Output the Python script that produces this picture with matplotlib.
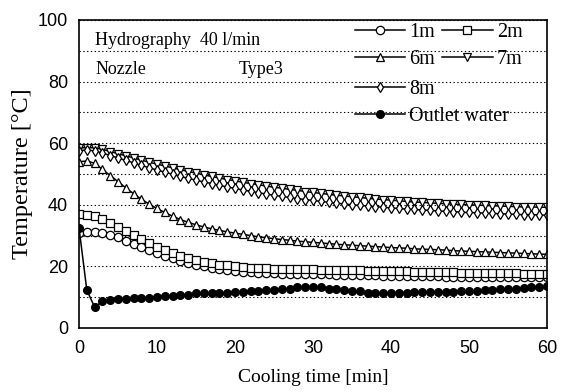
import matplotlib.pyplot as plt
from matplotlib.ticker import MultipleLocator

# cooling time [min], one reading per minute
time_min = list(range(61))

t_1m = [30.8, 31.2, 31.2, 30.8, 30.2, 29.4, 28.4, 27.4, 26.4, 25.3,
        24.3, 23.4, 22.6, 21.8, 21.1, 20.5, 20.0, 19.5, 19.1, 18.8,
        18.5, 18.3, 18.1, 17.9, 17.8, 17.7, 17.6, 17.6, 17.5, 17.5,
        17.5, 17.4, 17.4, 17.3, 17.3, 17.2, 17.2, 17.1, 17.1, 17.0,
        17.0, 16.9, 16.9, 16.9, 16.8, 16.8, 16.8, 16.7, 16.7, 16.7,
        16.6, 16.6, 16.6, 16.6, 16.5, 16.5, 16.5, 16.5, 16.4, 16.4, 16.4]

t_2m = [37.0, 36.8, 36.3, 35.3, 34.2, 32.9, 31.5, 30.1, 28.8, 27.5,
        26.3, 25.2, 24.3, 23.4, 22.7, 22.0, 21.5, 21.0, 20.6, 20.3,
        20.0, 19.8, 19.6, 19.5, 19.4, 19.3, 19.2, 19.2, 19.1, 19.1,
        19.0, 18.9, 18.9, 18.8, 18.8, 18.7, 18.7, 18.6, 18.6, 18.5,
        18.5, 18.4, 18.4, 18.3, 18.3, 18.2, 18.2, 18.1, 18.1, 18.0,
        18.0, 17.9, 17.9, 17.8, 17.8, 17.7, 17.7, 17.6, 17.6, 17.5, 17.5]

t_6m = [54.0, 54.2, 53.5, 51.5, 49.5, 47.5, 45.5, 43.6, 41.8, 40.2,
        38.8, 37.5, 36.3, 35.2, 34.3, 33.5, 32.8, 32.2, 31.7, 31.2,
        30.8, 30.4, 30.0, 29.6, 29.3, 29.0, 28.7, 28.5, 28.2, 28.0,
        27.8, 27.6, 27.4, 27.2, 27.0, 26.9, 26.7, 26.6, 26.4, 26.3,
        26.1, 26.0, 25.9, 25.7, 25.6, 25.5, 25.4, 25.3, 25.1, 25.0,
        24.9, 24.8, 24.7, 24.6, 24.5, 24.4, 24.3, 24.2, 24.1, 24.0, 23.9]

t_7m = [58.4, 58.6, 58.5, 58.0, 57.3, 56.6, 55.9, 55.2, 54.5, 53.8,
        53.2, 52.6, 52.0, 51.4, 50.8, 50.3, 49.7, 49.2, 48.7, 48.2,
        47.8, 47.3, 46.9, 46.5, 46.1, 45.7, 45.4, 45.0, 44.7, 44.3,
        44.0, 43.7, 43.4, 43.1, 42.9, 42.6, 42.4, 42.1, 41.9, 41.7,
        41.5, 41.3, 41.1, 40.9, 40.8, 40.6, 40.5, 40.3, 40.2, 40.1,
        40.0, 39.9, 39.8, 39.7, 39.6, 39.5, 39.4, 39.3, 39.3, 39.2, 39.2]

t_8m = [57.6, 57.8, 57.5, 56.8, 56.0, 55.2, 54.4, 53.6, 52.8, 52.0,
        51.3, 50.6, 49.9, 49.2, 48.6, 48.0, 47.4, 46.9, 46.3, 45.8,
        45.3, 44.8, 44.4, 43.9, 43.5, 43.1, 42.7, 42.4, 42.0, 41.7,
        41.4, 41.1, 40.8, 40.5, 40.3, 40.0, 39.8, 39.6, 39.4, 39.2,
        39.0, 38.8, 38.6, 38.5, 38.3, 38.2, 38.0, 37.9, 37.8, 37.6,
        37.5, 37.4, 37.3, 37.2, 37.1, 37.0, 36.9, 36.8, 36.8, 36.7, 36.6]

t_outlet = [32.5, 12.3, 6.8, 8.6, 9.2, 9.4, 9.5, 9.6, 9.6, 9.7,
            9.9, 10.4, 10.5, 10.6, 10.7, 11.2, 11.3, 11.3, 11.4, 11.5,
            11.7, 11.8, 12.0, 12.1, 12.3, 12.4, 12.5, 12.8, 13.3, 13.4,
            13.4, 13.2, 12.7, 12.5, 12.2, 12.0, 11.9, 11.2, 11.3, 11.4,
            11.4, 11.5, 11.5, 11.6, 11.6, 11.6, 11.7, 11.7, 11.8, 11.9,
            12.0, 12.0, 12.4, 12.4, 12.5, 12.6, 12.7, 12.9, 13.2, 13.4, 13.6]

serif = ['Liberation Serif', 'DejaVu Serif']

fig = plt.figure(figsize=(5.62, 3.92), dpi=100, facecolor='white')
ax = fig.add_axes([0.1406, 0.1633, 0.8327, 0.7857])

open_kw = dict(color='black', lw=1.1, mfc='white', mec='black', mew=0.9)
l1, = ax.plot(time_min, t_1m, marker='o', ms=6, label='1m', **open_kw)
l2, = ax.plot(time_min, t_2m, marker='s', ms=6, label='2m', **open_kw)
l6, = ax.plot(time_min, t_6m, marker='^', ms=6, label='6m', **open_kw)
l7, = ax.plot(time_min, t_7m, marker='v', ms=6, label='7m', **open_kw)
l8, = ax.plot(time_min, t_8m, marker='d', ms=5, label='8m', **open_kw)
lo, = ax.plot(time_min, t_outlet, marker='o', ms=5.5, color='black', lw=1.1,
              mfc='black', mec='black', label='Outlet water')

ax.set_xlim(0, 60)
ax.set_ylim(0, 100)
ax.xaxis.set_major_locator(MultipleLocator(10))
ax.yaxis.set_major_locator(MultipleLocator(20))
ax.yaxis.set_minor_locator(MultipleLocator(10))
ax.grid(axis='y', which='both', linestyle=(0, (1.2, 2.2)), color='black', lw=0.8)
ax.set_axisbelow(True)
ax.tick_params(which='both', length=0)
ax.tick_params(axis='x', pad=9)
ax.tick_params(axis='y', pad=8)
for lab in ax.get_xticklabels() + ax.get_yticklabels():
    lab.set_family(['Liberation Sans', 'DejaVu Sans'])
    lab.set_fontsize(13)
for s in ax.spines.values():
    s.set_linewidth(1.2)

ax.set_xlabel('Cooling time [min]', family=serif, fontsize=14, labelpad=8)
ax.set_ylabel('Temperature [\u00b0C]', family=serif, fontsize=17.5, labelpad=3)

ax.text(2.1, 93.5, 'Hydrography  40 l/min', family=serif, fontsize=13, va='center')
ax.text(2.1, 84, 'Nozzle', family=serif, fontsize=13, va='center')
ax.text(20.5, 84, 'Type3', family=serif, fontsize=13, va='center')

leg_kw = dict(frameon=False, prop={'family': serif, 'size': 14.5},
              handlelength=2.5, handletextpad=0.2, labelspacing=0.38,
              borderpad=0, borderaxespad=0, columnspacing=0.35)
leg1 = ax.legend([l1, l6, l2, l7], ['1m', '6m', '2m', '7m'], ncol=2,
                 loc='upper left', bbox_to_anchor=(0.59, 0.99), **leg_kw)
ax.add_artist(leg1)
ax.legend([l8, lo], ['8m', 'Outlet water'], loc='upper left',
          bbox_to_anchor=(0.59, 0.805), **leg_kw)

fig.savefig('out.png', dpi=100, facecolor='white')
